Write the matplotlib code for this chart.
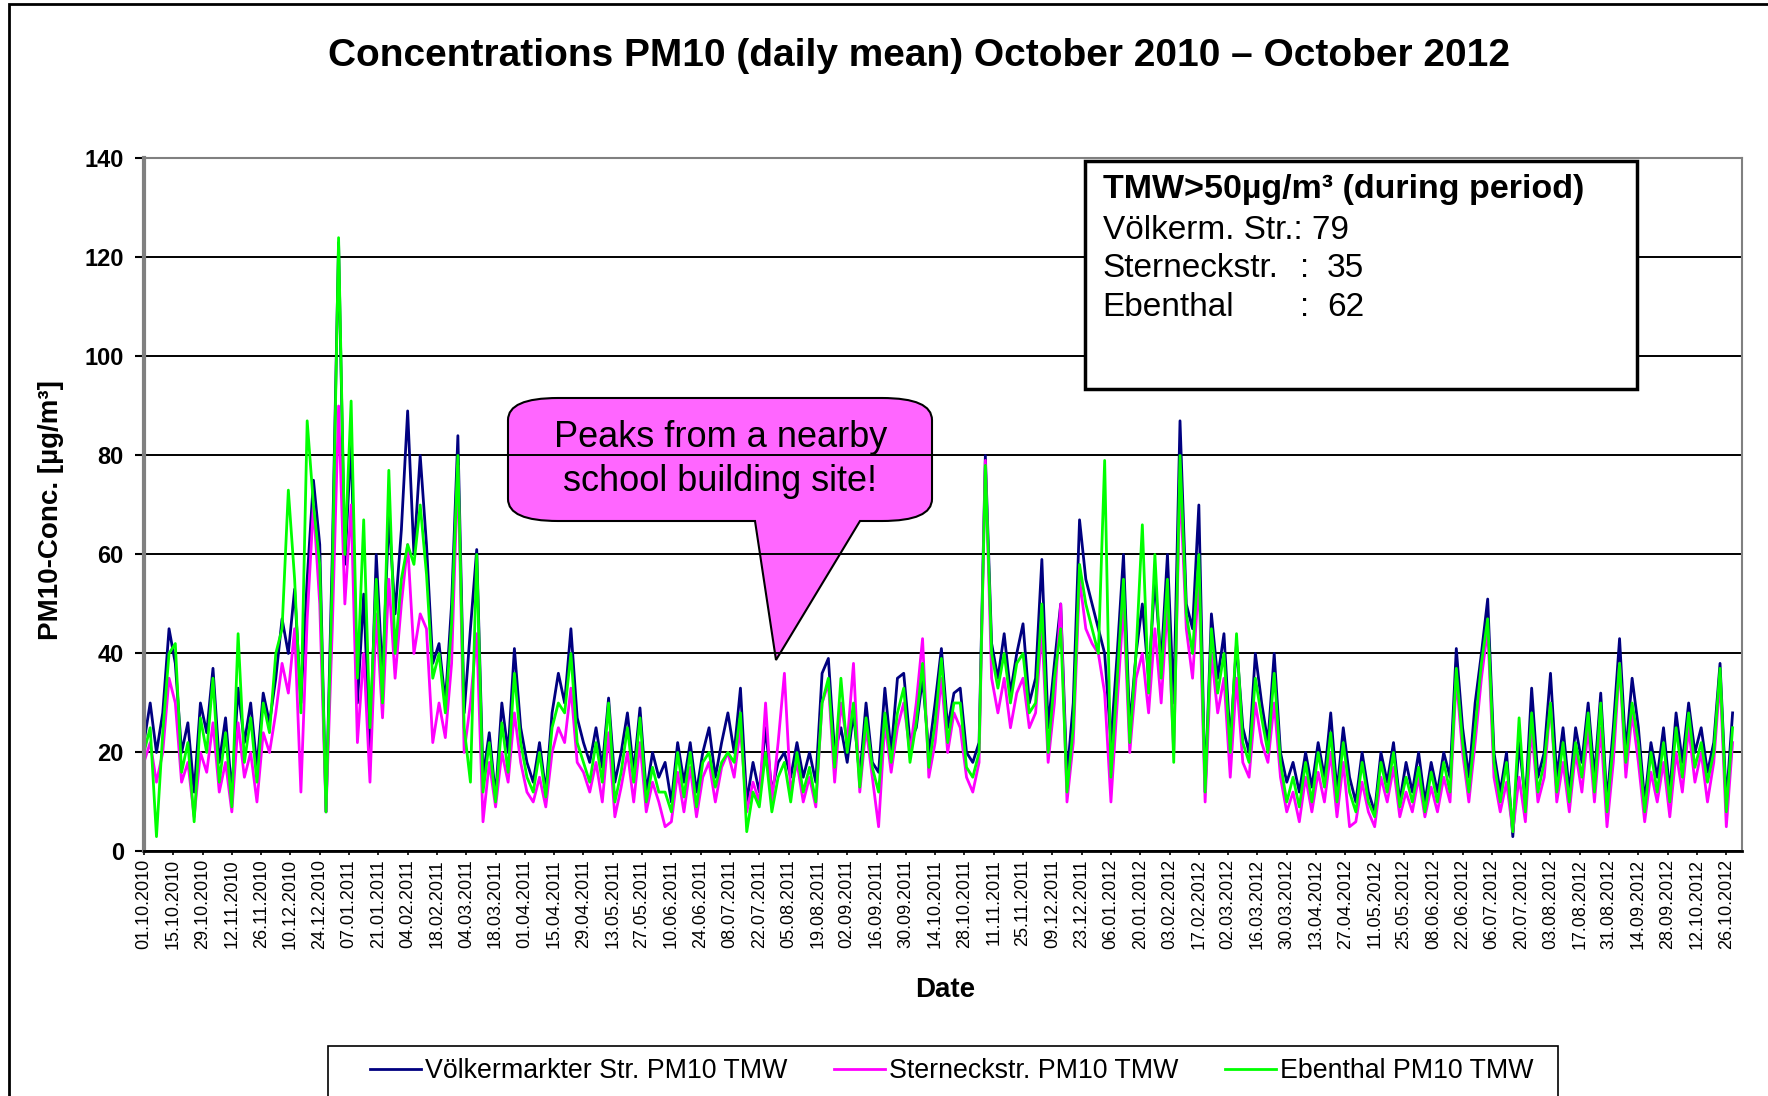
import matplotlib
matplotlib.use('Agg')
import matplotlib.pyplot as plt
import numpy as np
import pandas as pd
from matplotlib.path import Path
from matplotlib.patches import PathPatch, Rectangle

plt.rcParams['font.family'] = ['Liberation Sans', 'DejaVu Sans']

# PM10 daily means, every third day from 01.10.2010
start = '2010-10-01'
dates = pd.date_range(start, periods=254, freq='3D')

voelkermarkter = [
    22, 30, 20, 28, 45, 38, 20, 26, 12, 30,
    24, 37, 18, 27, 12, 33, 22, 30, 17, 32,
    26, 35, 47, 40, 53, 30, 55, 75, 62, 8,
    60, 123, 58, 83, 30, 52, 20, 60, 35, 68,
    48, 65, 89, 60, 80, 62, 38, 42, 30, 50,
    84, 28, 45, 61, 15, 24, 11, 30, 20, 41,
    25, 18, 14, 22, 12, 28, 36, 30, 45, 27,
    22, 18, 25, 17, 31, 14, 20, 28, 16, 29,
    12, 20, 15, 18, 10, 22, 14, 22, 12, 20,
    25, 15, 22, 28, 20, 33, 10, 18, 12, 25,
    12, 18, 20, 15, 22, 15, 20, 14, 36, 39,
    20, 25, 18, 28, 15, 30, 18, 16, 33, 20,
    35, 36, 22, 25, 35, 20, 30, 41, 25, 32,
    33, 20, 18, 22, 80, 42, 35, 44, 32, 40,
    46, 30, 35, 59, 25, 38, 50, 15, 30, 67,
    55, 50, 45, 40, 22, 40, 60, 25, 40, 50,
    35, 55, 38, 60, 30, 87, 50, 45, 70, 12,
    48, 35, 44, 22, 42, 25, 20, 40, 30, 22,
    40, 20, 14, 18, 12, 20, 13, 22, 15, 28,
    12, 25, 15, 10, 20, 12, 8, 20, 14, 22,
    10, 18, 12, 20, 10, 18, 12, 20, 15, 41,
    25, 15, 30, 40, 51, 20, 12, 20, 3, 22,
    10, 33, 15, 20, 36, 15, 25, 12, 25, 18,
    30, 15, 32, 10, 25, 43, 20, 35, 25, 10,
    22, 15, 25, 12, 28, 18, 30, 20, 25, 16,
    22, 38, 10, 28,
]
sterneck = [
    18, 22, 14, 20, 35, 30, 14, 18, 7, 20,
    16, 26, 12, 18, 8, 26, 15, 20, 10, 24,
    20, 28, 38, 32, 45, 12, 47, 70, 50, 8,
    45, 90, 50, 70, 22, 40, 14, 48, 27, 55,
    35, 50, 62, 40, 48, 45, 22, 30, 23, 38,
    78, 20, 30, 44, 6, 18, 9, 20, 14, 28,
    18, 12, 10, 15, 9, 20, 25, 22, 33, 18,
    16, 12, 18, 10, 24, 7, 13, 20, 10, 22,
    8, 14, 10, 5, 6, 16, 8, 17, 7, 15,
    18, 10, 17, 20, 15, 25, 8, 14, 10, 30,
    10, 22, 36, 12, 18, 10, 15, 9, 30, 34,
    14, 30, 22, 38, 12, 25, 15, 5, 26, 16,
    25, 30, 20, 30, 43, 15, 22, 35, 20, 28,
    25, 15, 12, 18, 79, 35, 28, 35, 25, 32,
    35, 25, 28, 45, 18, 30, 50, 10, 22, 55,
    45, 42, 40, 32, 10, 30, 50, 20, 35, 40,
    28, 45, 30, 50, 20, 75, 45, 35, 55, 10,
    40, 28, 35, 15, 35, 18, 15, 30, 22, 18,
    30, 15, 8, 12, 6, 15, 8, 16, 10, 20,
    7, 18, 5, 6, 14, 8, 5, 15, 10, 17,
    7, 12, 8, 15, 7, 13, 8, 15, 10, 35,
    20, 10, 22, 35, 45, 15, 8, 14, 4, 15,
    6, 25, 10, 15, 30, 10, 18, 8, 20, 12,
    25, 10, 25, 5, 18, 38, 15, 28, 18, 6,
    16, 10, 18, 7, 20, 12, 25, 14, 20, 10,
    18, 35, 5, 22,
]
ebenthal = [
    20, 25, 3, 24, 40, 42, 16, 22, 6, 27,
    20, 35, 14, 24, 9, 44, 18, 27, 14, 30,
    24, 40, 45, 73, 55, 28, 87, 70, 58, 8,
    55, 124, 60, 91, 35, 67, 25, 55, 30, 77,
    40, 55, 62, 58, 70, 56, 35, 40, 28, 46,
    80, 25, 14, 60, 12, 22, 10, 26, 16, 36,
    22, 15, 12, 20, 11, 25, 30, 28, 40, 22,
    18, 14, 22, 14, 30, 10, 16, 25, 14, 27,
    10, 17, 12, 12, 8, 20, 11, 20, 9, 18,
    20, 13, 18, 20, 18, 28, 4, 12, 9, 20,
    8, 15, 18, 10, 20, 12, 17, 10, 30, 35,
    17, 35, 20, 30, 13, 27, 17, 12, 28, 18,
    28, 33, 18, 26, 38, 17, 26, 39, 22, 30,
    30, 17, 15, 20, 78, 40, 33, 40, 30, 38,
    40, 28, 30, 50, 20, 35, 45, 12, 25, 58,
    50, 45, 40, 79, 15, 35, 55, 22, 40, 66,
    32, 60, 35, 55, 18, 80, 48, 40, 60, 12,
    45, 32, 40, 20, 44, 22, 18, 35, 27, 20,
    36, 18, 10, 15, 9, 18, 10, 20, 13, 24,
    10, 22, 12, 8, 18, 10, 7, 18, 12, 20,
    9, 15, 10, 17, 8, 16, 10, 18, 12, 37,
    22, 12, 25, 38, 47, 18, 10, 18, 4, 27,
    8, 28, 12, 18, 30, 12, 22, 10, 22, 15,
    28, 12, 30, 8, 22, 38, 18, 30, 22, 8,
    20, 12, 22, 10, 25, 15, 28, 17, 22, 14,
    20, 37, 8, 25,
]

series_names = ['Völkermarkter Str. PM10 TMW', 'Sterneckstr. PM10 TMW', 'Ebenthal PM10 TMW']
series_colors = ['#000080', '#FF00FF', '#00FF00']

tick_dates = pd.date_range(start, '2012-10-26', freq='14D')
tick_labels = [d.strftime('%d.%m.%Y') for d in tick_dates]

box_title = 'TMW>50µg/m³ (during period)'
station_short = ['Völkerm. Str.', 'Sterneckstr.', 'Ebenthal']
exceedances = [79, 35, 62]

W, H, DPI = 1768, 1096, 100
fig = plt.figure(figsize=(W / DPI, H / DPI), dpi=DPI)
ax = fig.add_axes([0.0814, 0.2231, 0.9039, 0.6323])

lines = []
for vals, col in zip([voelkermarkter, sterneck, ebenthal], series_colors):
    ln, = ax.plot(dates, vals, color=col, lw=2.0, zorder=2)
    lines.append(ln)

t0 = pd.Timestamp(start)
ax.set_xlim(t0, t0 + pd.Timedelta(days=763.5))
ax.set_ylim(0, 140)
ax.set_yticks(range(0, 141, 20))
ax.set_yticklabels([str(v) for v in range(0, 141, 20)], fontsize=17, fontweight='bold')
ax.set_xticks(tick_dates)
ax.set_xticklabels(tick_labels, rotation=90, fontsize=13)
ax.tick_params(axis='y', length=6.5, width=1.5, pad=8, color='black')
ax.tick_params(axis='x', length=3, width=1.2, pad=2.5, color='black')

ax.set_axisbelow(True)
ax.yaxis.grid(True, color='black', lw=1.4)
for side in ['top', 'right']:
    ax.spines[side].set_color('#808080')
    ax.spines[side].set_linewidth(1.5)
ax.spines['left'].set_color('#808080')
ax.spines['left'].set_linewidth(3)
ax.spines['bottom'].set_color('black')
ax.spines['bottom'].set_linewidth(2)


def px(x, y):
    return (x / DPI, (H - y) / DPI)


# callout bubble (pixel coords, y down)
x0, y0, x1, y1 = 508, 398, 932, 521
rx, ry = 50, 22
tl, tr, tip = 755, 860, (776, 660)
verts = [px(x0 + rx, y0), px(x1 - rx, y0), px(x1, y0), px(x1, y0 + ry),
         px(x1, y1 - ry), px(x1, y1), px(x1 - rx, y1),
         px(tr, y1), px(*tip), px(tl, y1),
         px(x0 + rx, y1), px(x0, y1), px(x0, y1 - ry),
         px(x0, y0 + ry), px(x0, y0), px(x0 + rx, y0), px(x0 + rx, y0)]
codes = [Path.MOVETO, Path.LINETO, Path.CURVE3, Path.CURVE3,
         Path.LINETO, Path.CURVE3, Path.CURVE3,
         Path.LINETO, Path.LINETO, Path.LINETO,
         Path.LINETO, Path.CURVE3, Path.CURVE3,
         Path.LINETO, Path.CURVE3, Path.CURVE3, Path.CLOSEPOLY]
bubble = PathPatch(Path(verts, codes), facecolor='#FF66FF', edgecolor='black',
                   lw=1.5, transform=fig.dpi_scale_trans, zorder=0.3, clip_on=False)
ax.add_patch(bubble)
fig.text(0.4075, 0.6009, 'Peaks from a nearby', ha='center', va='center', fontsize=26, zorder=5)
fig.text(0.4075, 0.5608, 'school building site!', ha='center', va='center', fontsize=26, zorder=5)

# exceedance text box
fig.add_artist(Rectangle((0.6135, 0.6451), 0.3125, 0.2078, transform=fig.transFigure,
                         facecolor='white', edgecolor='black', lw=2.5, zorder=4))
fig.text(0.6236, 0.8272, box_title, ha='left', va='center', fontsize=24.5, fontweight='bold', zorder=5)
row_y = [0.7901, 0.7552, 0.7192]
fig.text(0.6236, row_y[0], f'{station_short[0]}: {exceedances[0]}', ha='left', va='center',
         fontsize=24, zorder=5)
for name, n, yy in zip(station_short[1:], exceedances[1:], row_y[1:]):
    fig.text(0.6236, yy, name, ha='left', va='center', fontsize=24, zorder=5)
    fig.text(0.7355, yy, ':', ha='left', va='center', fontsize=24, zorder=5)
    fig.text(0.7505, yy, str(n), ha='left', va='center', fontsize=24, zorder=5)

# titles
fig.text(0.52, 0.949, 'Concentrations PM10 (daily mean) October 2010 \u2013 October 2012',
         ha='center', va='center', fontsize=28, fontweight='bold')
fig.text(0.0287, 0.535, 'PM10-Conc. [µg/m³]', rotation=90, ha='center', va='center',
         fontsize=20, fontweight='bold')
fig.text(0.5344, 0.0968, 'Date', ha='center', va='center', fontsize=20, fontweight='bold')

# legend with a frame running off the bottom edge
fig.add_artist(Rectangle((0.1855, -0.05), 0.6958, 0.0954, transform=fig.transFigure,
                         fill=False, edgecolor='black', lw=1.2))
fig.legend(lines, series_names, loc='center left', bbox_to_anchor=(0.2091, 0.0228),
           ncol=3, frameon=False, fontsize=19.3, handlelength=1.9, handletextpad=0.15,
           columnspacing=1.75, borderaxespad=0, borderpad=0)

# outer chart border
fig.add_artist(Rectangle((0.0051, -0.05), 1.1, 1.0459, transform=fig.transFigure,
                         fill=False, edgecolor='black', lw=2))

fig.savefig('out.png', dpi=DPI)
